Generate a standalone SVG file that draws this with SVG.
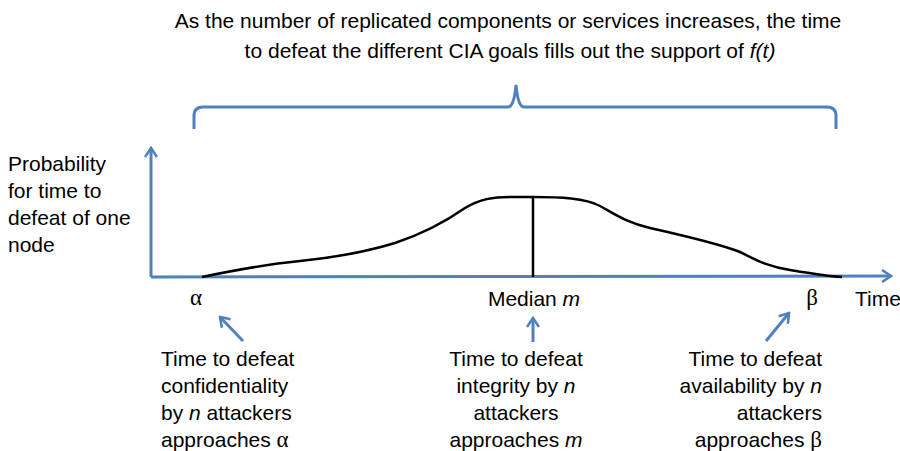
<svg xmlns="http://www.w3.org/2000/svg" width="900" height="451" viewBox="0 0 900 451">
  <style>
    text { font-family: "Liberation Sans", Arial, sans-serif; font-size: 21px; fill: #000; }
    .greek { font-family: "Liberation Serif", "Times New Roman", serif; font-size: 23px; }
    .it { font-style: italic; }
    .blue { fill: none; stroke: #4f81bd; stroke-width: 3; }
    .curve { fill: none; stroke: #000; stroke-width: 2.5; }
  </style>
  <defs>
    <marker id="head" viewBox="-12 -7 14 14" markerWidth="14" markerHeight="14" refX="0" refY="0" orient="auto" markerUnits="userSpaceOnUse">
      <path d="M-9,-6 L0,0 L-9,6" fill="none" stroke="#4f81bd" stroke-width="2.6" stroke-linejoin="miter"/>
    </marker>
  </defs>

  <rect width="900" height="451" fill="#fff"/>

  <!-- heading -->
  <g id="heading">
    <text x="508" y="28" text-anchor="middle">As the number of replicated components or services increases, the time</text>
    <text x="510" y="58" text-anchor="middle">to defeat the different CIA goals fills out the support of <tspan class="it">f(t)</tspan></text>
  </g>

  <!-- curly brace spanning the support -->
  <g id="brace">
    <path class="blue" d="M194,129 L194,116 Q194,107 203,107 L508,107 Q514,107 516,85 Q518,107 524,107 L827,107 Q836,107 836,116 L836,129"/>
  </g>

  <!-- axes -->
  <g id="axes">
    <path class="blue" d="M151,277 L151,148" marker-end="url(#head)"/>
    <path class="blue" d="M151,277 L891,276" marker-end="url(#head)"/>
    <text x="8" y="171">Probability</text>
    <text x="8" y="198">for time to</text>
    <text x="8" y="225">defeat of one</text>
    <text x="8" y="252">node</text>
    <text x="855" y="306">Time</text>
  </g>

  <!-- density curve and median -->
  <g id="density">
    <path class="curve" d="M202,277 C240,269 270,264 300,261 C330,258 362,253 395,243 C425,233 445,222 465,208 C480,199 493,197 510,197 L533,197 C560,197 585,198 600,206 C615,214 625,222 650,228 C690,237 720,244 740,252 C755,259 765,266 790,270 C815,274 830,277 842,277"/>
    <line x1="533" y1="197" x2="533" y2="277" stroke="#000" stroke-width="2.5"/>
  </g>

  <!-- axis markers -->
  <g id="alpha"><text class="greek" x="196" y="305" text-anchor="middle">α</text></g>
  <g id="median"><text x="534" y="306" text-anchor="middle">Median <tspan class="it">m</tspan></text></g>
  <g id="beta"><text class="greek" x="812" y="305" text-anchor="middle">β</text></g>

  <!-- pointer arrows -->
  <g id="connectors">
    <path class="blue" d="M243,341 L220,317" marker-end="url(#head)"/>
    <path class="blue" d="M533,342 L533,318" marker-end="url(#head)"/>
    <path class="blue" d="M766,341 L789,313" marker-end="url(#head)"/>
  </g>

  <!-- annotations -->
  <g id="confidentiality">
    <text x="161" y="366">Time to defeat</text>
    <text x="161" y="393">confidentiality</text>
    <text x="161" y="420">by <tspan class="it">n</tspan> attackers</text>
    <text x="161" y="447">approaches <tspan class="greek">α</tspan></text>
  </g>
  <g id="integrity">
    <text x="516" y="366" text-anchor="middle">Time to defeat</text>
    <text x="516" y="393" text-anchor="middle">integrity by <tspan class="it">n</tspan></text>
    <text x="516" y="420" text-anchor="middle">attackers</text>
    <text x="516" y="447" text-anchor="middle">approaches <tspan class="it">m</tspan></text>
  </g>
  <g id="availability">
    <text x="822" y="366" text-anchor="end">Time to defeat</text>
    <text x="822" y="393" text-anchor="end">availability by <tspan class="it">n</tspan></text>
    <text x="822" y="420" text-anchor="end">attackers</text>
    <text x="822" y="447" text-anchor="end">approaches <tspan class="greek">β</tspan></text>
  </g>
</svg>
